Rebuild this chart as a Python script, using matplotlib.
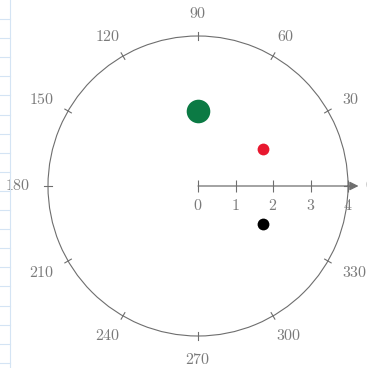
import numpy as np
import matplotlib.pyplot as plt
from matplotlib.lines import Line2D

plt.rcParams['mathtext.fontset'] = 'cm'

# points: angle in degrees, radius
angles = [90, 30, 330]
radii = [2, 2, 2]
colors = ['#0b7a44', '#e8182f', '#000000']
sizes = [17, 8.5, 8.5]

angle_ticks = list(range(0, 360, 30))
r_ticks = [0, 1, 2, 3, 4]
r_max = 4

grey = '#6e6e6e'
label_grey = '#7a7a7a'

fig = plt.figure(figsize=(3.67, 3.68), dpi=100)
W, H = 367, 368
px = 72 / fig.dpi

# faint squared paper on the left margin
fig.add_artist(Line2D([10 / W, 10 / W], [0, 1], color='#d4e4f4', lw=0.8))
for y in np.arange(19, H, 19.1):
    fig.add_artist(Line2D([0, 10 / W], [1 - y / H, 1 - y / H], color='#d4e4f4', lw=0.8))

ax = fig.add_axes([48 / W, (H - 336) / H, 300 / W, 300 / H], projection='polar')
ax.set_facecolor('none')
ax.set_ylim(0, r_max)
ax.grid(False)
ax.spines['polar'].set_color(grey)
ax.spines['polar'].set_linewidth(0.8)
ax.set_xticks([])
ax.set_yticks([])

# angle ticks crossing the circle; labels anchored on their side facing the circle
for a in angle_ticks:
    t = np.deg2rad(a)
    ax.plot([t, t], [r_max - 0.1, r_max + 0.1], color=grey, lw=0.8, clip_on=False)
    w, h = 8.3 * len(str(a)), 10
    dx = (18 + w / 2) * np.cos(t)
    dy = (18 + h / 2) * np.sin(t)
    ax.annotate(r'$%d$' % a, xy=(t, r_max), xytext=(dx * px, dy * px),
                textcoords='offset points', ha='center', va='center',
                fontsize=11.5, color=label_grey, annotation_clip=False)

# radial axis with arrow
ax.annotate('', xy=(0, r_max * 1.07), xytext=(0, 0),
            arrowprops=dict(arrowstyle='-|>', color=grey, lw=0.9,
                            mutation_scale=13, shrinkA=0, shrinkB=0),
            annotation_clip=False)
ax.plot(np.zeros(len(r_ticks)), r_ticks, ls='none', marker='|', ms=9,
        mew=0.8, color=grey, clip_on=False)
for r in r_ticks:
    ax.annotate(r'$%d$' % r, xy=(0, r), xytext=(0, -14), textcoords='offset points',
                ha='center', va='center', fontsize=11.5, color=label_grey,
                annotation_clip=False)

for a, r, c, s in zip(angles, radii, colors, sizes):
    ax.plot(np.deg2rad(a), r, 'o', color=c, ms=s, mec='none', clip_on=False)

fig.savefig('out.png', dpi=100)
